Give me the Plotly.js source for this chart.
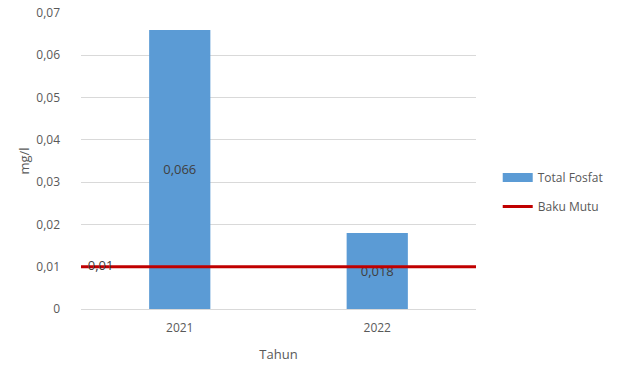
<!DOCTYPE html>
<html>
<head>
<meta charset="utf-8">
<script src="https://cdn.plot.ly/plotly-3.0.1.min.js"></script>
<style>html,body{margin:0;padding:0;background:#fff;}#chart{width:637px;height:367px;}</style>
</head>
<body>
<div id="chart"></div>
<script>
var years = ["2021", "2022"];
var totalFosfat = [0.066, 0.018];
var totalFosfatLabels = ["0,066", "0,018"];
var bakuMutuX = [0, 1];
var bakuMutu = [0.01, 0.01];
var bakuMutuLabels = ["  0,01", ""];
var yTickVals = [0, 0.01, 0.02, 0.03, 0.04, 0.05, 0.06, 0.07];
var yTickText = ["0", "0,01", "0,02", "0,03", "0,04", "0,05", "0,06", "0,07"];

var traces = [
  {
    type: "bar",
    name: "Total Fosfat",
    x: years,
    y: totalFosfat,
    text: totalFosfatLabels,
    textposition: "inside",
    insidetextanchor: "middle",
    textfont: {color: "#404040", size: 13, family: "Open Sans, sans-serif"},
    marker: {color: "#5b9bd5"},
    hoverinfo: "none",
    showlegend: false
  },
  {
    type: "scatter",
    mode: "lines",
    name: "Total Fosfat",
    x: [null],
    y: [null],
    line: {color: "#5b9bd5", width: 9},
    legendgroup: "a",
    hoverinfo: "none"
  },
  {
    type: "scatter",
    mode: "lines+text",
    name: "Baku Mutu",
    x: bakuMutuX,
    y: bakuMutu,
    xaxis: "x2",
    text: bakuMutuLabels,
    textposition: "middle right",
    textfont: {color: "#404040", size: 13, family: "Open Sans, sans-serif"},
    line: {color: "#c00000", width: 3},
    legendgroup: "b",
    hoverinfo: "none",
    cliponaxis: false
  }
];

var layout = {
  width: 637,
  height: 367,
  margin: {l: 81, r: 161, t: 13, b: 58},
  paper_bgcolor: "#ffffff",
  plot_bgcolor: "#ffffff",
  font: {family: "Open Sans, sans-serif", color: "#595959", size: 12},
  bargap: 0.69,
  showlegend: true,
  legend: {
    x: 1.055, xanchor: "left", y: 0.395, yanchor: "middle",
    font: {size: 12, color: "#595959"},
    tracegroupgap: 10,
    itemwidth: 30
  },
  xaxis: {
    type: "category",
    showgrid: false,
    showline: false,
    zeroline: false,
    ticks: "",
    ticklabelstandoff: 10,
    tickfont: {size: 12, color: "#595959"},
    title: {text: "Tahun", font: {size: 13, color: "#595959"}, standoff: 14}
  },
  xaxis2: {
    overlaying: "x",
    range: [0, 1],
    visible: false
  },
  yaxis: {
    range: [0, 0.07],
    tickvals: yTickVals,
    ticktext: yTickText,
    showgrid: true,
    gridcolor: "#d9d9d9",
    zeroline: true,
    zerolinecolor: "#d9d9d9",
    showline: false,
    ticks: "",
    ticklabelstandoff: 20,
    tickfont: {size: 12, color: "#595959"},
    title: {text: "mg/l", font: {size: 13, color: "#595959"}, standoff: 3}
  }
};

Plotly.newPlot("chart", traces, layout, {displayModeBar: false, staticPlot: true});
</script>
</body>
</html>
